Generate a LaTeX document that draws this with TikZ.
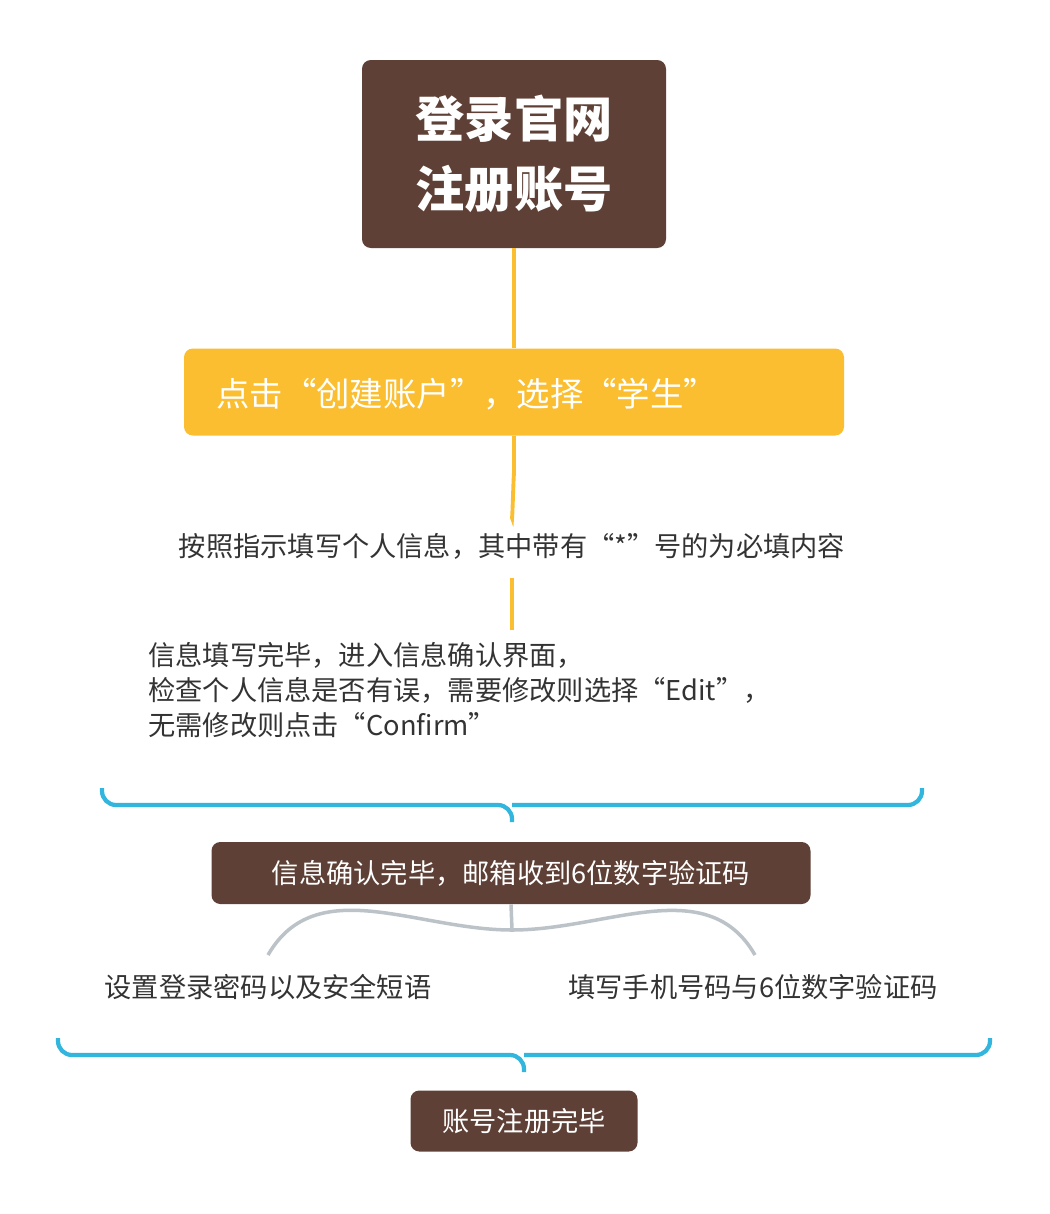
\documentclass[tikz,border=0pt]{standalone}
\usepackage{fontspec}
\setmainfont{Noto Sans CJK SC}
\definecolor{brownbox}{RGB}{94,64,54}
\definecolor{yellowbox}{RGB}{251,190,48}
\definecolor{bracecol}{RGB}{51,182,222}
\definecolor{graycol}{RGB}{188,195,200}
\definecolor{textcol}{RGB}{51,51,51}
\tikzset{
  brownnode/.style={fill=brownbox, text=white, rounded corners=5pt, inner sep=0pt},
  yellownode/.style={fill=yellowbox, text=white, rounded corners=5pt, inner sep=0pt},
  plaintext/.style={text=textcol, inner sep=0pt, font=\fontsize{15.5}{22}\selectfont},
  yline/.style={yellowbox, line width=2.2pt},
  bline/.style={bracecol, line width=2.4pt, rounded corners=8pt},
  gline/.style={graycol, line width=2pt}
}
\begin{document}
\begin{tikzpicture}[x=0.02cm, y=-0.02cm]
  \useasboundingbox (0,0) rectangle (1050,1214);
  % boxes
  \node[brownnode, minimum width=304*0.02cm, minimum height=188*0.02cm,
    font=\fontsize{28}{40}\selectfont\bfseries, align=center] (title) at (514,154) {登录官网\\注册账号};
  \node[yellownode, minimum width=660*0.02cm, minimum height=87*0.02cm] (choose) at (514,392) {};
  \node[text=white, anchor=west, inner sep=0pt, font=\fontsize{19}{24}\selectfont] (choosetext) at (216,394) {点击“创建账户”，选择“学生”};
  \node[plaintext] (fill) at (512,546) {按照指示填写个人信息，其中带有“*”号的为必填内容};
  \node[plaintext, anchor=north west, align=left, font=\fontsize{15.5}{19.8}\selectfont] (check) at (148,642)
    {信息填写完毕，进入信息确认界面，\\检查个人信息是否有误，需要修改则选择“Edit”，\\无需修改则点击“Confirm”};
  \node[brownnode, minimum width=599*0.02cm, minimum height=62*0.02cm,
    font=\fontsize{15.5}{20}\selectfont] (mail) at (511,873) {信息确认完毕，邮箱收到6位数字验证码};
  \node[plaintext] (pwd) at (268,987) {设置登录密码以及安全短语};
  \node[plaintext] (phone) at (753,987) {填写手机号码与6位数字验证码};
  \node[brownnode, minimum width=227*0.02cm, minimum height=61*0.02cm,
    font=\fontsize{15.5}{20}\selectfont] (done) at (524,1121) {账号注册完毕};
  % coordinates
  \coordinate (brace1) at (512,822);
  \coordinate (brace2) at (524,1072);
  \coordinate (split) at (512,930);
  % yellow connectors
  \draw[yline] (title.south) -- (choose.north);
  \draw[yline] (choose.south) -- ++(0,40) to[out=90,in=-90] ++(-2,40);
  \draw[yline] (512,578) -- (512,630);
  % first brace
  \draw[bline] (102,788) -- (102,805) -- (512,805) -- (brace1);
  \draw[bline] (922,788) -- (922,805) -- (512,805);
  % gray split
  \draw[gline] (mail.south) -- (split);
  \draw[gline] (268,955) to[out=60,in=180] (split) to[out=0,in=120] (755,955);
  % second brace
  \draw[bline] (58,1038) -- (58,1055) -- (524,1055) -- (brace2);
  \draw[bline] (990,1038) -- (990,1055) -- (524,1055);
\end{tikzpicture}
\end{document}
